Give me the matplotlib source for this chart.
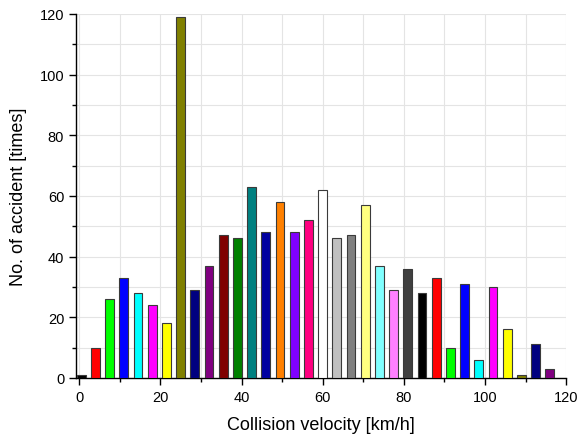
import numpy as np
import matplotlib
matplotlib.use("Agg")
import matplotlib.pyplot as plt
from matplotlib.ticker import MultipleLocator

plt.rcParams['font.family'] = ['Liberation Sans', 'DejaVu Sans']

# bin centres (km/h) and counts
velocity = [0.5, 4, 7.5, 11, 14.5, 18, 21.5, 25, 28.5, 32, 35.5, 39, 42.5, 46,
            49.5, 53, 56.5, 60, 63.5, 67, 70.5, 74, 77.5, 81, 84.5, 88, 91.5,
            95, 98.5, 102, 105.5, 109, 112.5, 116]
accidents = [1, 10, 26, 33, 28, 24, 18, 119, 29, 37, 47, 46, 63, 48, 58, 48,
             52, 62, 46, 47, 57, 37, 29, 36, 28, 33, 10, 31, 6, 30, 16, 1, 11, 3]

# Origin style colour cycle
palette = ['#000000', '#FF0000', '#00FF00', '#0000FF', '#00FFFF', '#FF00FF',
           '#FFFF00', '#808000', '#000080', '#800080', '#800000', '#008000',
           '#008080', '#0000A0', '#FF8000', '#8000FF', '#FF0080', '#FFFFFF',
           '#C0C0C0', '#808080', '#FFFF80', '#80FFFF', '#FF80FF', '#404040']
colors = [palette[i % len(palette)] for i in range(len(velocity))]

fig = plt.figure(figsize=(5.8, 4.39), dpi=100)
ax = fig.add_axes([0.131, 0.137, 0.845, 0.829])

ax.bar(velocity, accidents, width=2.15, color=colors, edgecolor='#3a3a3a',
       linewidth=0.8, zorder=3)

ax.set_xlim(-0.8, 120)
ax.set_ylim(0, 120)
ax.xaxis.set_major_locator(MultipleLocator(20))
ax.xaxis.set_minor_locator(MultipleLocator(10))
ax.yaxis.set_major_locator(MultipleLocator(20))
ax.yaxis.set_minor_locator(MultipleLocator(10))

ax.grid(True, which='both', color='#e4e4e4', linewidth=0.8, zorder=0)
ax.set_axisbelow(True)

for side in ['top', 'right']:
    ax.spines[side].set_visible(False)
for side in ['left', 'bottom']:
    ax.spines[side].set_linewidth(1.0)

ax.tick_params(which='major', direction='out', length=5, width=1, labelsize=10.5)
ax.tick_params(which='minor', direction='out', length=3, width=1)

ax.set_xlabel('Collision velocity [km/h]', fontsize=13, labelpad=9)
ax.set_ylabel('No. of accident [times]', fontsize=13, labelpad=9)

fig.savefig('out.png', dpi=100)
